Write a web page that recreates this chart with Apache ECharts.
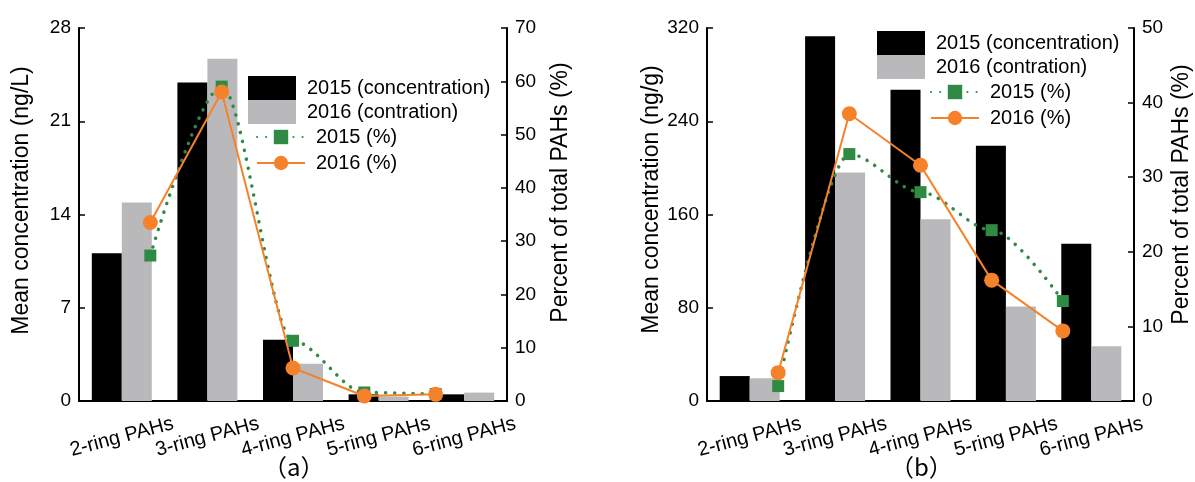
<!DOCTYPE html>
<html>
<head>
<meta charset="utf-8">
<title>PAHs</title>
<script src="https://cdn.jsdelivr.net/npm/echarts@6/dist/echarts.min.js"></script>
<style>
    html, body { margin: 0; padding: 0; background: #fff; }
    #myChart { width: 1195px; height: 482px; }
</style>
</head>
<body>
<div id="myChart"></div>
<script>
    // 类别
    var categories = ['2-ring PAHs', '3-ring PAHs', '4-ring PAHs', '5-ring PAHs', '6-ring PAHs'];

    // (a) 水样 ng/L
    var concA2015 = [11.1, 23.9, 4.6, 0.5, 0.5];
    var concA2016 = [14.9, 25.7, 2.8, 0.33, 0.63];
    var pctA2015 = [27.3, 59.0, 11.3, 1.6, 1.3];
    var pctA2016 = [33.5, 58.0, 6.2, 0.94, 1.25];

    // (b) 沉积物 ng/g
    var concB2015 = [21.4, 313, 267, 219, 135];
    var concB2016 = [19.5, 196, 156, 81, 47];
    var pctB2015 = [2.0, 33.1, 28.0, 22.9, 13.4];
    var pctB2016 = [3.8, 38.5, 31.6, 16.2, 9.4];

    // 刻度 [min, max, interval]
    var ticksA = {left: [0, 28, 7], right: [0, 70, 10]};
    var ticksB = {left: [0, 320, 80], right: [0, 50, 10]};

    // 图注，全角括号
    var captions = ['\uFF08a\uFF09', '\uFF08b\uFF09'];

    var FONT = "'Liberation Sans', Arial, sans-serif";
    var BLACK = '#000000', GRAY = '#b9b9bb', GREEN = '#2f8b43', ORANGE = '#f5822b';

    // 折线用的隐藏x轴：两端各留一个空位
    var lineSlots = ['s'].concat(categories).concat(['e']);
    function pad(arr) {
        return ['-'].concat(arr).concat(['-']);
    }

    function barX(grid) {
        return {
            type: 'category', gridIndex: grid, data: categories,
            axisLine: {lineStyle: {color: BLACK, width: 2}},
            axisTick: {show: false},
            axisLabel: {
                interval: 0, rotate: 15, align: 'center', verticalAlign: 'middle', margin: 36,
                color: BLACK, fontSize: 20, fontFamily: FONT
            }
        };
    }
    function lineX(grid) {
        return {type: 'category', gridIndex: grid, data: lineSlots, boundaryGap: false, show: false};
    }
    function yAx(grid, pos, t, name, gap, shift) {
        return {
            type: 'value', gridIndex: grid, position: pos,
            min: t[0], max: t[1], interval: t[2],
            name: name, nameLocation: 'middle', nameRotate: 90, nameGap: gap,
            nameTextStyle: {color: BLACK, fontSize: 23, fontFamily: FONT, padding: [0, 0, 0, shift]},
            axisLine: {show: true, onZero: false, lineStyle: {color: BLACK, width: 2}},
            axisTick: {show: true, inside: true, length: 6, lineStyle: {color: BLACK, width: 1.5}},
            axisLabel: {color: BLACK, fontSize: 19, fontFamily: FONT, margin: 8},
            splitLine: {show: false}
        };
    }
    function bars(name, color, xi, yi, data) {
        return {
            name: name, type: 'bar', xAxisIndex: xi, yAxisIndex: yi, data: data,
            barWidth: 30, barGap: '0%', itemStyle: {color: color}
        };
    }
    function pctLine(name, xi, yi, data, dotted) {
        return {
            name: name, type: 'line', xAxisIndex: xi, yAxisIndex: yi, data: pad(data),
            smooth: dotted ? 0.3 : false,
            smoothMonotone: 'x',
            symbol: dotted ? 'rect' : 'circle',
            symbolSize: dotted ? 12 : 15,
            itemStyle: {color: dotted ? GREEN : ORANGE},
            lineStyle: dotted ? {color: GREEN, width: 3.5, type: [0.1, 9], cap: 'round'} : {color: ORANGE, width: 2},
            z: dotted ? 3 : 4
        };
    }
    function barLegend(left, top) {
        return {
            orient: 'vertical', left: left, top: top, padding: 0,
            itemWidth: 48, itemHeight: 24, itemGap: 0,
            data: [{name: '2015 (concentration)', icon: 'rect'}, {name: '2016 (contration)', icon: 'rect'}],
            textStyle: {color: BLACK, fontSize: 20, fontFamily: FONT, padding: [0, 0, 0, 6]}
        };
    }
    function lineLegend(left, top) {
        return {
            orient: 'vertical', left: left, top: top, padding: 0,
            itemWidth: 48, itemHeight: 18, itemGap: 6,
            data: ['2015 (%)', '2016 (%)'],
            textStyle: {color: BLACK, fontSize: 20, fontFamily: FONT, lineHeight: 18, padding: [0, 0, 0, 6]}
        };
    }
    function caption(left, text) {
        return {
            text: text, left: left, top: 455, padding: 0,
            textStyle: {color: BLACK, fontSize: 24, fontWeight: 'normal', fontFamily: 'Noto Sans CJK SC'}
        };
    }

    var myChart = echarts.init(document.getElementById('myChart'));
    var option = {
        backgroundColor: '#fff',
        animation: false,
        title: [caption(263, captions[0]), caption(890, captions[1])],
        grid: [
            {left: 79, right: 688, top: 28, bottom: 81},
            {left: 707, right: 61, top: 28, bottom: 81}
        ],
        xAxis: [barX(0), lineX(0), barX(1), lineX(1)],
        yAxis: [
            yAx(0, 'left', ticksA.left, 'Mean concentration (ng/L)', 46, 28),
            yAx(0, 'right', ticksA.right, 'Percent of total PAHs (%)', 42, 44),
            yAx(1, 'left', ticksB.left, 'Mean concentration (ng/g)', 44, 30),
            yAx(1, 'right', ticksB.right, 'Percent of total PAHs (%)', 36, 40)
        ],
        legend: [barLegend(248, 76), lineLegend(256, 127), barLegend(877, 31), lineLegend(930, 82)],
        series: [
            bars('2015 (concentration)', BLACK, 0, 0, concA2015),
            bars('2016 (contration)', GRAY, 0, 0, concA2016),
            pctLine('2015 (%)', 1, 1, pctA2015, true),
            pctLine('2016 (%)', 1, 1, pctA2016, false),
            bars('2015 (concentration)', BLACK, 2, 2, concB2015),
            bars('2016 (contration)', GRAY, 2, 2, concB2016),
            pctLine('2015 (%)', 3, 3, pctB2015, true),
            pctLine('2016 (%)', 3, 3, pctB2016, false)
        ]
    };
    myChart.setOption(option);
</script>
</body>
</html>
